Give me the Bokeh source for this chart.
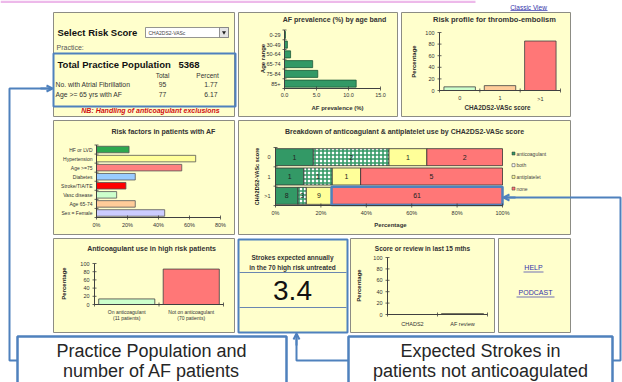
import math
from bokeh.plotting import figure
from bokeh.models import Range1d, Arrow, OpenHead
from bokeh.core.properties import value
from bokeh.embed import file_html
from bokeh.resources import INLINE

# ---------------- data ----------------
risk_score_choice = "CHA2DS2-VASc"
practice_population = "5368"
summary_rows = ["No. with Atrial Fibrillation", "Age >= 65 yrs with AF"]
summary_totals = ["95", "77"]
summary_percents = ["1.77", "6.17"]

age_bands = ["0-29", "30-49", "50-64", "65-74", "75-84", "85+"]
af_prevalence = [0.15, 0.45, 0.95, 4.4, 5.2, 11.2]
prev_ticks = [0, 5, 10, 15]
prev_tick_labels = ["0.0", "5.0", "10.0", "15.0"]

score_groups = ["0", "1", ">1"]
risk_profile_pct = [6.3, 8.4, 85.3]
profile_colors = ["#CCFFCC", "#FFCC99", "#FF7777"]
pct_ticks = [0, 20, 40, 60, 80, 100]

risk_factors = ["HF or LVD", "Hypertension", "Age >=75", "Diabetes",
                "Stroke/TIA/TE", "Vasc disease", "Age 65-74", "Sex = Female"]
risk_factor_pct = [21, 64, 55, 25, 19, 13, 25, 44]
risk_factor_colors = ["#2EA84F", "#FFFF99", "#FF8080", "#99CCFF",
                      "#FF0000", "#CCFFCC", "#FFCC99", "#CCCCFF"]
rf_ticks = [0, 20, 40, 60, 80]

treatments = ["anticoagulant", "both", "antiplatelet", "none"]
anticoag_n = [1, 1, 8]
both_n = [2, 1, 3]
antiplatelet_n = [1, 1, 9]
none_n = [2, 5, 61]
treatment_colors = ["#339966", "#FFFFFF", "#FFFF99", "#FF7777"]
bd_ticks = [0, 20, 40, 60, 80, 100]

high_risk_line1 = ["On anticoagulant", "Not on anticoagulant"]
high_risk_line2 = ["(11 patients)", "(70 patients)"]
high_risk_pct = [13.6, 86.4]
high_risk_colors = ["#CCFFCC", "#FF7777"]

strokes_expected = "3.4"
review_cats = ["CHADS2", "AF review"]
review_pct = [0, 1]

# ---------------- styling ----------------
FONT = value("Liberation Sans")
BLUE = "#4F81BD"
PANEL_FILL = "#FFFFCC"
PANEL_LINE = "#8C8C84"
AXIS = "#404040"
TXT = "#222222"

p = figure(width=622, height=382, x_range=Range1d(0, 622), y_range=Range1d(382, 0),
           output_backend="svg", toolbar_location=None, min_border=0,
           x_axis_location=None, y_axis_location=None)
p.grid.visible = False
p.outline_line_color = None
p.background_fill_color = "white"
p.border_fill_color = "white"


def T(g, x, y, s, size=6, color=TXT, align="left", baseline="middle",
      style="normal", angle=0.0, xo=0, yo=0):
    if not isinstance(s, list):
        s = [s]
    n = len(s)
    xs = x if isinstance(x, list) else [x] * n
    ys = y if isinstance(y, list) else [y] * n
    g.text(x=xs, y=ys, text=s, text_font=FONT, text_font_size=f"{size}px",
           text_color=color, text_align=align, text_baseline=baseline,
           text_font_style=style, angle=angle, x_offset=xo, y_offset=yo)


def box(x0, y0, x1, y1, fill=PANEL_FILL, line=PANEL_LINE, lw=1.0):
    p.quad(left=[x0], right=[x1], top=[y0], bottom=[y1],
           fill_color=fill, line_color=line, line_width=lw)


def ticks(g, xs, ys, vertical):
    g.scatter(x=xs, y=ys, marker="dash", size=4, line_color=AXIS, line_width=0.8,
              angle=(math.pi / 2 if vertical else 0.0))


# top pink strip of the page
p.quad(left=[0], right=[475], top=[0], bottom=[2.5], fill_color="#EDB9EA", line_color=None)

# ---------------- panels ----------------
box(53, 12, 234, 116)
box(238, 12, 397, 116)
box(401, 12, 570, 116)
box(53, 120, 234, 234)
box(238, 120, 570, 234)
box(53, 238, 234, 332)
box(350, 238, 494, 332)
box(498, 238, 570, 332)
box(238, 239, 347, 332, line=BLUE, lw=2)

# ---------------- panel A: summary ----------------
T(p, 57, 32, "Select Risk Score", size=9.5, style="bold", color="#111111")
p.quad(left=[145], right=[228], top=[27], bottom=[37], fill_color="white", line_color="#7A7A7A", line_width=0.8)
p.quad(left=[219], right=[228], top=[27], bottom=[37], fill_color="#E4E4E4", line_color="#7A7A7A", line_width=0.8)
p.scatter(x=[223.5], y=[32], marker="inverted_triangle", size=4, fill_color="#222222", line_color=None)
T(p, 148, 32, risk_score_choice, size=5, color="#444444")
T(p, 56, 47, "Practice:", size=7, color="#555555")
p.quad(left=[53], right=[235], top=[53], bottom=[106], fill_color=None, line_color=BLUE, line_width=2)
T(p, 57, 64, "Total Practice Population", size=9.5, style="bold", color="#111111")
T(p, 178, 64, practice_population, size=9.5, style="bold", color="#111111")
T(p, [162, 207], [75, 75], ["Total", "Percent"], size=6.5, align="center", color="#333333")
T(p, [55, 55], [84, 94], summary_rows, size=6.8, color="#333333")
T(p, [162, 162], [84, 94], summary_totals, size=6.8, align="center", color="#333333")
T(p, [217, 217], [84, 94], summary_percents, size=6.8, align="right", color="#333333")
T(p, 150, 110, "NB: Handling of anticoagulant exclusions", size=7, color="#D01010",
  style="bold italic", align="center")
T(p, 528, 6.5, "Classic View", size=6.5, color="#3333AA", align="center")
p.segment(x0=[510], y0=[10], x1=[547], y1=[10], line_color="#3333AA", line_width=0.7)

# ---------------- panel B: AF prevalence by age ----------------
nb = len(age_bands)
iy = list(range(nb))
sb = p.subplot(x_source=Range1d(0, 15), y_source=Range1d(-0.5, nb - 0.5),
               x_target=Range1d(284, 380), y_target=Range1d(29.5, 88))
sb.hbar(y=iy, left=0, right=af_prevalence, height=0.72, fill_color="#339966",
        line_color="#1E5A3A", line_width=0.8)
sb.segment(x0=[0, 0], y0=[-0.5, nb - 0.5], x1=[0, max(prev_ticks)], y1=[nb - 0.5, nb - 0.5],
           line_color=AXIS, line_width=1)
ticks(sb, prev_ticks, [nb - 0.5] * len(prev_ticks), True)
ticks(sb, [0] * (nb + 1), [i - 0.5 for i in range(nb + 1)], False)
T(sb, prev_ticks, [nb - 0.5] * len(prev_ticks), prev_tick_labels, size=5.5,
  align="center", baseline="top", yo=4, color="#333333")
T(sb, [0] * nb, iy, age_bands, size=5.5, align="right", xo=-4, color="#333333")
T(p, 334, 19, "AF prevalence (%) by age band", size=7, style="bold", align="center", color="#333333")
T(p, 337, 107, "AF prevalence (%)", size=6, style="bold", align="center", color="#333333")
T(p, 262, 58, "Age range", size=6, style="bold", align="center", angle=math.pi / 2)

# ---------------- panel C: risk profile ----------------
kc = len(score_groups)
ix = list(range(kc))
sc = p.subplot(x_source=Range1d(-0.5, kc - 0.5), y_source=Range1d(0, 100),
               x_target=Range1d(439, 560), y_target=Range1d(90, 32))
sc.vbar(x=ix, bottom=0, top=risk_profile_pct, width=0.78, fill_color=profile_colors,
        line_color="#404040", line_width=0.8)
sc.segment(x0=[-0.5, -0.5], y0=[0, 0], x1=[-0.5, kc - 0.5], y1=[100, 0], line_color=AXIS, line_width=1)
ticks(sc, [-0.5] * len(pct_ticks), pct_ticks, False)
ticks(sc, [i - 0.5 for i in range(kc + 1)], [0] * (kc + 1), True)
T(sc, [-0.5] * len(pct_ticks), pct_ticks, [str(t) for t in pct_ticks], size=5.5,
  align="right", xo=-5, color="#333333")
T(sc, ix, [0] * kc, score_groups, size=5.5, align="center", baseline="top", yo=5, color="#333333")
T(p, 494, 19, "Risk profile for thrombo-embolism", size=7.5, style="bold", align="center", color="#333333")
T(p, 497, 107, "CHA2DS2-VASc score", size=6.3, style="bold", align="center", color="#333333")
T(p, 413, 61, "Percentage", size=6, style="bold", align="center", angle=math.pi / 2)

# ---------------- panel D: risk factors ----------------
nd = len(risk_factors)
idy = list(range(nd))
sd = p.subplot(x_source=Range1d(0, 80), y_source=Range1d(-0.5, nd - 0.5),
               x_target=Range1d(96, 220), y_target=Range1d(144.5, 217))
sd.hbar(y=idy, left=0, right=risk_factor_pct, height=0.72, fill_color=risk_factor_colors,
        line_color="#555555", line_width=0.8)
sd.segment(x0=[0, 0], y0=[-0.5, nd - 0.5], x1=[0, max(rf_ticks)], y1=[nd - 0.5, nd - 0.5],
           line_color=AXIS, line_width=1)
ticks(sd, rf_ticks, [nd - 0.5] * len(rf_ticks), True)
ticks(sd, [0] * (nd + 1), [i - 0.5 for i in range(nd + 1)], False)
T(sd, rf_ticks, [nd - 0.5] * len(rf_ticks), [f"{t}%" for t in rf_ticks], size=5.5,
  align="center", baseline="top", yo=4, color="#333333")
T(sd, [0] * nd, idy, risk_factors, size=5, align="right", xo=-4, color="#333333")
T(p, 163, 131, "Risk factors in patients with AF", size=7, style="bold", align="center", color="#333333")

# ---------------- panel E: breakdown ----------------
counts = [anticoag_n, both_n, antiplatelet_n, none_n]
ne = len(score_groups)
ie = list(range(ne))
totals = [sum(c[i] for c in counts) for i in ie]
se = p.subplot(x_source=Range1d(0, 100), y_source=Range1d(-0.5, ne - 0.5),
               x_target=Range1d(275, 502), y_target=Range1d(147, 205))
cum = [0.0] * ne
segs = []
for ci, c in enumerate(counts):
    left = cum[:]
    right = [cum[i] + 100.0 * c[i] / totals[i] for i in ie]
    segs.append((left, right))
    kw = dict(y=ie, left=left, right=right, height=0.88, fill_color=treatment_colors[ci],
              line_color="#333333", line_width=0.8)
    if treatments[ci] == "both":
        kw.update(hatch_pattern="cross", hatch_color="#339966", hatch_scale=4, hatch_weight=1.6)
    se.hbar(**kw)
    cum = right
for ci, c in enumerate(counts):
    left, right = segs[ci]
    T(se, [(left[i] + right[i]) / 2 for i in ie], ie, [str(v) for v in c], size=7,
      align="center", color="#222222")
hl, hr = segs[3][0][2], segs[3][1][2]
se.quad(left=[hl], right=[hr], bottom=[2 - 0.47], top=[2 + 0.47], fill_color=None,
        line_color=BLUE, line_width=2.5)
se.segment(x0=[0, 0], y0=[-0.5, ne - 0.5], x1=[0, 100], y1=[ne - 0.5, ne - 0.5],
           line_color=AXIS, line_width=1)
ticks(se, bd_ticks, [ne - 0.5] * len(bd_ticks), True)
ticks(se, [0] * (ne + 1), [i - 0.5 for i in range(ne + 1)], False)
T(se, bd_ticks, [ne - 0.5] * len(bd_ticks), [f"{t}%" for t in bd_ticks], size=5.5,
  align="center", baseline="top", yo=4, color="#333333")
T(se, [0] * ne, ie, score_groups, size=5.5, align="right", xo=-5, color="#333333")
T(p, 405, 131, "Breakdown of anticoagulant & antiplatelet use by CHA2DS2-VASc  score", size=7,
  style="bold", align="center", color="#333333")
T(p, 390, 224, "Percentage", size=6, style="bold", align="center", color="#333333")
T(p, 256, 176, "CHA2DS2-VASc score", size=5.5, style="bold", align="center", angle=math.pi / 2)
leg_y = [153 + 11.7 * i for i in range(len(treatments))]
p.scatter(x=[513] * len(treatments), y=leg_y, marker="square", size=3,
          fill_color=treatment_colors, line_color="#333333", line_width=0.5)
T(p, [516] * len(treatments), leg_y, treatments, size=5, color="#444444")

# ---------------- panel F: anticoagulant in high risk ----------------
nf = len(high_risk_pct)
ixf = list(range(nf))
sf = p.subplot(x_source=Range1d(-0.5, nf - 0.5), y_source=Range1d(0, 100),
               x_target=Range1d(94, 223), y_target=Range1d(304, 263))
sf.vbar(x=ixf, bottom=0, top=high_risk_pct, width=0.87, fill_color=high_risk_colors,
        line_color="#404040", line_width=0.8)
sf.segment(x0=[-0.5, -0.5], y0=[0, 0], x1=[-0.5, nf - 0.5], y1=[100, 0], line_color=AXIS, line_width=1)
ticks(sf, [-0.5] * len(pct_ticks), pct_ticks, False)
ticks(sf, [i - 0.5 for i in range(nf + 1)], [0] * (nf + 1), True)
T(sf, [-0.5] * len(pct_ticks), pct_ticks, [str(t) for t in pct_ticks], size=5.5,
  align="right", xo=-5, color="#333333")
T(sf, ixf, [0] * nf, high_risk_line1, size=5, align="center", baseline="top", yo=4, color="#333333")
T(sf, ixf, [0] * nf, high_risk_line2, size=5, align="center", baseline="top", yo=10, color="#333333")
T(p, 152, 248, "Anticoagulant use in high  risk patients", size=7, style="bold", align="center", color="#333333")
T(p, 63, 283, "Percentage", size=6, style="bold", align="center", angle=math.pi / 2)

# ---------------- panel G: strokes expected ----------------
p.segment(x0=[239, 239], y0=[272, 307], x1=[346, 346], y1=[272, 307], line_color="#6A86B0", line_width=1)
T(p, 292, 257, "Strokes expected annually", size=6.5, style="bold", align="center", color="#333333")
T(p, 292, 267, "in the 70 high risk untreated", size=6.5, style="bold", align="center", color="#333333")
T(p, 292, 290, strokes_expected, size=28, align="center", color="#111111")

# ---------------- panel H: score or review ----------------
nh = len(review_cats)
ixh = list(range(nh))
sh = p.subplot(x_source=Range1d(-0.5, nh - 0.5), y_source=Range1d(0, 100),
               x_target=Range1d(387, 487), y_target=Range1d(314, 257))
sh.vbar(x=ixh, bottom=0, top=review_pct, width=0.85, fill_color="#99CCFF",
        line_color="#111111", line_width=1)
sh.segment(x0=[-0.5, -0.5], y0=[0, 0], x1=[-0.5, nh - 0.5], y1=[100, 0], line_color=AXIS, line_width=1)
ticks(sh, [-0.5] * len(pct_ticks), pct_ticks, False)
ticks(sh, [i - 0.5 for i in range(nh + 1)], [0] * (nh + 1), True)
T(sh, [-0.5] * len(pct_ticks), pct_ticks, [str(t) for t in pct_ticks], size=5.5,
  align="right", xo=-5, color="#333333")
T(sh, ixh, [0] * nh, review_cats, size=5.5, align="center", baseline="top", yo=6, color="#333333")
T(p, 422, 248, "Score or review in last 15 mths", size=6.5, style="bold", align="center", color="#333333")
T(p, 358, 285, "Percentage", size=6, style="bold", align="center", angle=math.pi / 2)

# ---------------- panel I: links ----------------
T(p, [533, 535], [267, 292], ["HELP", "PODCAST"], size=7, align="center", color="#3333AA")
p.segment(x0=[523, 516], y0=[271.5, 296.5], x1=[543, 554], y1=[271.5, 296.5], line_color="#3333AA", line_width=0.7)

# ---------------- callouts ----------------
p.line(x=[17, 9, 9, 50], y=[360, 360, 88, 88], line_color=BLUE, line_width=2)
p.add_layout(Arrow(end=OpenHead(size=6, line_color=BLUE, line_width=2), x_start=40, y_start=88,
                   x_end=52, y_end=88, line_color=BLUE, line_width=2))
p.line(x=[348, 296, 296], y=[360, 360, 336], line_color=BLUE, line_width=2)
p.add_layout(Arrow(end=OpenHead(size=6, line_color=BLUE, line_width=2), x_start=296, y_start=345,
                   x_end=296, y_end=333, line_color=BLUE, line_width=2))
p.line(x=[612, 620, 620, 506], y=[360, 360, 197, 197], line_color=BLUE, line_width=2)
p.add_layout(Arrow(end=OpenHead(size=6, line_color=BLUE, line_width=2), x_start=515, y_start=197,
                   x_end=503, y_end=197, line_color=BLUE, line_width=2))
box(17, 336, 286, 386, fill="white", line=BLUE, lw=2.5)
box(348, 336, 612, 386, fill="white", line=BLUE, lw=2.5)
T(p, [151, 151], [350, 370], ["Practice Population and", "number of AF patients"], size=18,
  align="center", color="#262626")
T(p, [480, 480], [350, 370], ["Expected Strokes in", "patients not anticoagulated"], size=18,
  align="center", color="#262626")

open("out.html", "w").write(file_html(p, INLINE))
